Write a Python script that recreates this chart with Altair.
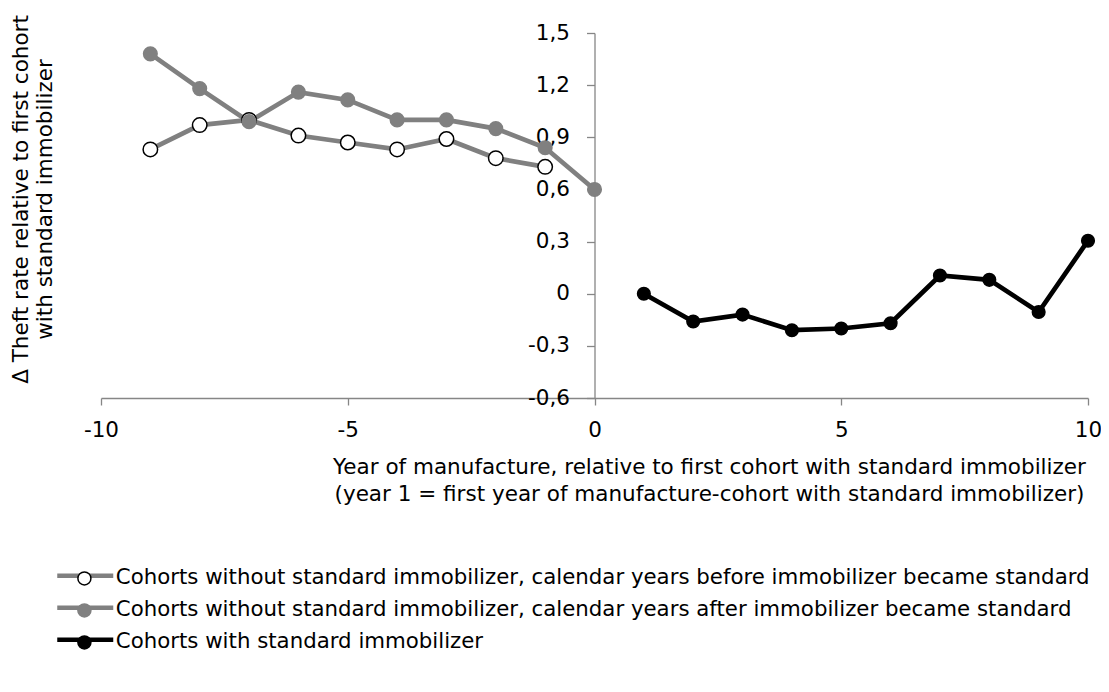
import altair as alt
import pandas as pd

series_names = [
    "Cohorts without standard immobilizer, calendar years before immobilizer became standard",
    "Cohorts without standard immobilizer, calendar years after immobilizer became standard",
    "Cohorts with standard immobilizer",
]
line_keys = ["l1", "l2", "l3"]
size_keys = ["s1", "s2", "s3"]

x_before = [-9, -8, -7, -6, -5, -4, -3, -2, -1]
y_before = [0.83, 0.97, 1.00, 0.91, 0.87, 0.83, 0.89, 0.78, 0.73]

x_after = [-9, -8, -7, -6, -5, -4, -3, -2, -1, 0]
y_after = [1.38, 1.18, 0.99, 1.16, 1.115, 1.00, 1.00, 0.95, 0.84, 0.60]

x_with = [1, 2, 3, 4, 5, 6, 7, 8, 9, 10]
y_with = [0.0, -0.16, -0.12, -0.21, -0.20, -0.17, 0.105, 0.08, -0.105, 0.305]

x_ticks = [-10, -5, 0, 5, 10]
y_ticks = [-0.6, -0.3, 0, 0.3, 0.6, 0.9, 1.2, 1.5]

line_colors = ["#808080", "#808080", "#000000"]
fill_colors = ["#ffffff", "#808080", "#000000"]
stroke_colors = ["#000000", "#808080", "#000000"]
marker_sizes = [210, 160, 200]

rows = []
for name, lkey, skey, xs, ys in zip(series_names, line_keys, size_keys,
                                    [x_before, x_after, x_with],
                                    [y_before, y_after, y_with]):
    for i, (xv, yv) in enumerate(zip(xs, ys)):
        rows.append({"series": name, "line": lkey, "sizekey": skey, "x": xv, "y": yv, "idx": i})
df = pd.DataFrame(rows)

FONT = "DejaVu Sans"
FS = 21.5
LEG_FS = 21.3
AXIS_GREY = "#868686"
PLOT_W = 987
PLOT_H = 365

x_enc = alt.X(
    "x:Q",
    scale=alt.Scale(domain=[-10, 10], nice=False, zero=False),
    axis=alt.Axis(
        values=x_ticks,
        labelExpr="(datum.value < 0 ? '-' : '') + abs(datum.value)",
        title=[
            "Year of manufacture, relative to first cohort with standard immobilizer",
            "(year 1 = first year of manufacture-cohort with standard immobilizer)",
        ],
        titleX=608,
        titleY=69,
        titleAlign="center",
        titleBaseline="middle",
        titleLineHeight=27,
        titleFont=FONT,
        titleFontSize=FS,
        titleFontWeight="normal",
        titleColor="#000000",
        grid=False,
        tickSize=7,
        tickColor=AXIS_GREY,
        tickWidth=1.3,
        domainColor=AXIS_GREY,
        domainWidth=1.3,
        labelFont=FONT,
        labelFontSize=FS,
        labelColor="#000000",
        labelPadding=14,
        labelFlush=False,
        labelOverlap=False,
    ),
)

y_enc = alt.Y(
    "y:Q",
    scale=alt.Scale(domain=[-0.6, 1.5], nice=False, zero=False),
    axis=alt.Axis(
        values=y_ticks,
        labelExpr="datum.value == 0 ? '0' : (datum.value < 0 ? '-' : '') + replace(format(abs(datum.value), '.1f'), '.', ',')",
        offset=-PLOT_W / 2,
        title=[
            "\u0394 Theft rate relative to first cohort",
            "with standard immobilizer",
        ],
        titleX=-573,
        titleY=166,
        titleAngle=270,
        titleAlign="center",
        titleBaseline="middle",
        titleLineHeight=24,
        titleFont=FONT,
        titleFontSize=FS,
        titleFontWeight="normal",
        titleColor="#000000",
        grid=False,
        tickSize=8,
        tickColor=AXIS_GREY,
        tickWidth=1.3,
        domainColor=AXIS_GREY,
        domainWidth=1.3,
        labelFont=FONT,
        labelFontSize=FS,
        labelColor="#000000",
        labelPadding=17,
        labelFlush=False,
        labelOverlap=False,
    ),
)

# legend of the line part (drawn underneath)
legend_lines = alt.Legend(
    title=None,
    orient="none",
    legendX=-24.75,
    legendY=533.75,
    symbolType="M-4.308,0H4.308",
    symbolSize=169,
    symbolStrokeWidth=4.5,
    labelExpr="''",
    labelOffset=0,
    rowPadding=14,
    padding=0,
    zindex=1,
)

# legend of the marker part, carrying the labels (drawn on top)
legend_markers = alt.Legend(
    title=None,
    orient="none",
    legendX=-27.25,
    legendY=534.75,
    symbolType="circle",
    symbolSize=169,
    symbolStrokeWidth=1.5,
    symbolOpacity=1,
    labelFont=FONT,
    labelFontSize=LEG_FS,
    labelColor="#000000",
    labelOffset=20.75,
    labelLimit=2000,
    rowPadding=10,
    padding=0,
    zindex=2,
)

lines = alt.Chart(df).mark_line(strokeWidth=4.7).encode(
    x=x_enc,
    y=y_enc,
    order="idx:Q",
    color=alt.Color(
        "line:N",
        scale=alt.Scale(domain=line_keys, range=line_colors),
        legend=legend_lines,
    ),
)

points = alt.Chart(df).mark_point(filled=True, opacity=1, strokeWidth=1.5, shape="circle").encode(
    x=x_enc,
    y=y_enc,
    fill=alt.Fill("series:N", scale=alt.Scale(domain=series_names, range=fill_colors), legend=legend_markers),
    stroke=alt.Stroke("series:N", scale=alt.Scale(domain=series_names, range=stroke_colors), legend=legend_markers),
    size=alt.Size("sizekey:N", scale=alt.Scale(domain=size_keys, range=marker_sizes), legend=None),
)

chart = alt.layer(lines, points).properties(
    width=PLOT_W,
    height=PLOT_H,
    autosize=alt.AutoSizeParams(type="none"),
    padding={"left": 93, "top": 25, "right": 1093 - 93 - PLOT_W, "bottom": 255},
    background="white",
).configure_view(stroke=None)

chart.save("out.html", embed_options={"renderer": "svg", "actions": False})
